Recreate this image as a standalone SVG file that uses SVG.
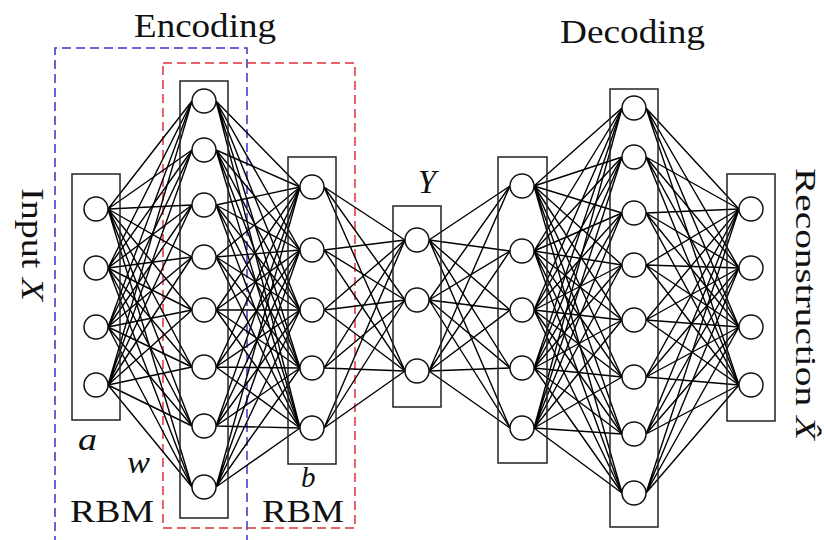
<svg xmlns="http://www.w3.org/2000/svg" width="824" height="540" viewBox="0 0 824 540">
<style>
.box{fill:none;stroke:#222;stroke-width:1.5}
.nd{fill:#fff;stroke:#111;stroke-width:1.5}
.ln{fill:none;stroke:#000;stroke-width:1.4}
.t{fill:#111}
.it{font-style:italic}
</style>
<rect width="824" height="540" fill="#fff"/>
<g id="regions">
<path d="M55 545V48H247V545" fill="none" stroke="#3535c8" stroke-width="1.5" stroke-dasharray="9 5"/>
<rect x="163" y="63" width="192" height="465" fill="none" stroke="#e0303c" stroke-width="1.5" stroke-dasharray="9 5"/>
</g>
<g id="connectors" class="ln">
<path d="M108 209L192 101M108 209L192 150M108 209L192 205M108 209L192 257M108 209L192 310M108 209L192 367M108 209L192 426M108 209L192 487"/>
<path d="M108 268L192 101M108 268L192 150M108 268L192 205M108 268L192 257M108 268L192 310M108 268L192 367M108 268L192 426M108 268L192 487"/>
<path d="M108 327L192 101M108 327L192 150M108 327L192 205M108 327L192 257M108 327L192 310M108 327L192 367M108 327L192 426M108 327L192 487"/>
<path d="M108 385L192 101M108 385L192 150M108 385L192 205M108 385L192 257M108 385L192 310M108 385L192 367M108 385L192 426M108 385L192 487"/>
<path d="M216 101L300 187M216 101L300 250M216 101L300 310M216 101L300 368M216 101L300 428"/>
<path d="M216 150L300 187M216 150L300 250M216 150L300 310M216 150L300 368M216 150L300 428"/>
<path d="M216 205L300 187M216 205L300 250M216 205L300 310M216 205L300 368M216 205L300 428"/>
<path d="M216 257L300 187M216 257L300 250M216 257L300 310M216 257L300 368M216 257L300 428"/>
<path d="M216 310L300 187M216 310L300 250M216 310L300 310M216 310L300 368M216 310L300 428"/>
<path d="M216 367L300 187M216 367L300 250M216 367L300 310M216 367L300 368M216 367L300 428"/>
<path d="M216 426L300 187M216 426L300 250M216 426L300 310M216 426L300 368M216 426L300 428"/>
<path d="M216 487L300 187M216 487L300 250M216 487L300 310M216 487L300 368M216 487L300 428"/>
<path d="M324 187L405 240M324 187L405 300M324 187L405 371"/>
<path d="M324 250L405 240M324 250L405 300M324 250L405 371"/>
<path d="M324 310L405 240M324 310L405 300M324 310L405 371"/>
<path d="M324 368L405 240M324 368L405 300M324 368L405 371"/>
<path d="M324 428L405 240M324 428L405 300M324 428L405 371"/>
<path d="M429 240L510 186M429 240L510 251M429 240L510 310M429 240L510 368M429 240L510 428"/>
<path d="M429 300L510 186M429 300L510 251M429 300L510 310M429 300L510 368M429 300L510 428"/>
<path d="M429 371L510 186M429 371L510 251M429 371L510 310M429 371L510 368M429 371L510 428"/>
<path d="M534 186L622 108M534 186L622 157M534 186L622 213M534 186L622 265M534 186L622 320M534 186L622 377M534 186L622 434M534 186L622 493"/>
<path d="M534 251L622 108M534 251L622 157M534 251L622 213M534 251L622 265M534 251L622 320M534 251L622 377M534 251L622 434M534 251L622 493"/>
<path d="M534 310L622 108M534 310L622 157M534 310L622 213M534 310L622 265M534 310L622 320M534 310L622 377M534 310L622 434M534 310L622 493"/>
<path d="M534 368L622 108M534 368L622 157M534 368L622 213M534 368L622 265M534 368L622 320M534 368L622 377M534 368L622 434M534 368L622 493"/>
<path d="M534 428L622 108M534 428L622 157M534 428L622 213M534 428L622 265M534 428L622 320M534 428L622 377M534 428L622 434M534 428L622 493"/>
<path d="M646 108L739 209M646 108L739 268M646 108L739 327M646 108L739 385"/>
<path d="M646 157L739 209M646 157L739 268M646 157L739 327M646 157L739 385"/>
<path d="M646 213L739 209M646 213L739 268M646 213L739 327M646 213L739 385"/>
<path d="M646 265L739 209M646 265L739 268M646 265L739 327M646 265L739 385"/>
<path d="M646 320L739 209M646 320L739 268M646 320L739 327M646 320L739 385"/>
<path d="M646 377L739 209M646 377L739 268M646 377L739 327M646 377L739 385"/>
<path d="M646 434L739 209M646 434L739 268M646 434L739 327M646 434L739 385"/>
<path d="M646 493L739 209M646 493L739 268M646 493L739 327M646 493L739 385"/>
</g>
<g id="layer-input">
<rect class="box" x="72" y="174" width="48" height="246"/>
<circle class="nd" cx="96" cy="209" r="12"/><circle class="nd" cx="96" cy="268" r="12"/><circle class="nd" cx="96" cy="327" r="12"/><circle class="nd" cx="96" cy="385" r="12"/>
</g>
<g id="layer-enc1">
<rect class="box" x="180" y="81" width="48" height="437"/>
<circle class="nd" cx="204" cy="101" r="12"/><circle class="nd" cx="204" cy="150" r="12"/><circle class="nd" cx="204" cy="205" r="12"/><circle class="nd" cx="204" cy="257" r="12"/><circle class="nd" cx="204" cy="310" r="12"/><circle class="nd" cx="204" cy="367" r="12"/><circle class="nd" cx="204" cy="426" r="12"/><circle class="nd" cx="204" cy="487" r="12"/>
</g>
<g id="layer-enc2">
<rect class="box" x="288" y="157" width="48" height="307"/>
<circle class="nd" cx="312" cy="187" r="12"/><circle class="nd" cx="312" cy="250" r="12"/><circle class="nd" cx="312" cy="310" r="12"/><circle class="nd" cx="312" cy="368" r="12"/><circle class="nd" cx="312" cy="428" r="12"/>
</g>
<g id="layer-code">
<rect class="box" x="393" y="206" width="48" height="201"/>
<circle class="nd" cx="417" cy="240" r="12"/><circle class="nd" cx="417" cy="300" r="12"/><circle class="nd" cx="417" cy="371" r="12"/>
</g>
<g id="layer-dec1">
<rect class="box" x="498" y="157" width="49" height="306"/>
<circle class="nd" cx="522" cy="186" r="12"/><circle class="nd" cx="522" cy="251" r="12"/><circle class="nd" cx="522" cy="310" r="12"/><circle class="nd" cx="522" cy="368" r="12"/><circle class="nd" cx="522" cy="428" r="12"/>
</g>
<g id="layer-dec2">
<rect class="box" x="610" y="89" width="48" height="438"/>
<circle class="nd" cx="634" cy="108" r="12"/><circle class="nd" cx="634" cy="157" r="12"/><circle class="nd" cx="634" cy="213" r="12"/><circle class="nd" cx="634" cy="265" r="12"/><circle class="nd" cx="634" cy="320" r="12"/><circle class="nd" cx="634" cy="377" r="12"/><circle class="nd" cx="634" cy="434" r="12"/><circle class="nd" cx="634" cy="493" r="12"/>
</g>
<g id="layer-output">
<rect class="box" x="727" y="174" width="48" height="247"/>
<circle class="nd" cx="751" cy="209" r="12"/><circle class="nd" cx="751" cy="268" r="12"/><circle class="nd" cx="751" cy="327" r="12"/><circle class="nd" cx="751" cy="385" r="12"/>
</g>
<g id="labels" font-family="'Liberation Serif', 'Times New Roman', Times, serif">
<text class="t" x="134" y="37" font-size="33" textLength="142" lengthAdjust="spacingAndGlyphs">Encoding</text>
<text class="t" x="560" y="43" font-size="33" textLength="145" lengthAdjust="spacingAndGlyphs">Decoding</text>
<text class="t it" x="427" y="193" font-size="33" text-anchor="middle">Y</text>
<text class="t it" x="78" y="450" font-size="32" textLength="19" lengthAdjust="spacingAndGlyphs">a</text>
<text class="t it" x="127" y="473" font-size="32" textLength="23" lengthAdjust="spacingAndGlyphs">w</text>
<text class="t it" x="301" y="487" font-size="29">b</text>
<text class="t" x="70" y="522" font-size="31" textLength="84" lengthAdjust="spacingAndGlyphs">RBM</text>
<text class="t" x="262" y="522" font-size="31" textLength="82" lengthAdjust="spacingAndGlyphs">RBM</text>
<text class="t" transform="translate(22,188) rotate(90)" font-size="31" textLength="113" lengthAdjust="spacingAndGlyphs">Input <tspan class="it">X</tspan></text>
<text class="t" transform="translate(796,168) rotate(90)" font-size="30" textLength="272" lengthAdjust="spacingAndGlyphs">Reconstruction <tspan class="it">X̂</tspan></text>
</g>
</svg>
